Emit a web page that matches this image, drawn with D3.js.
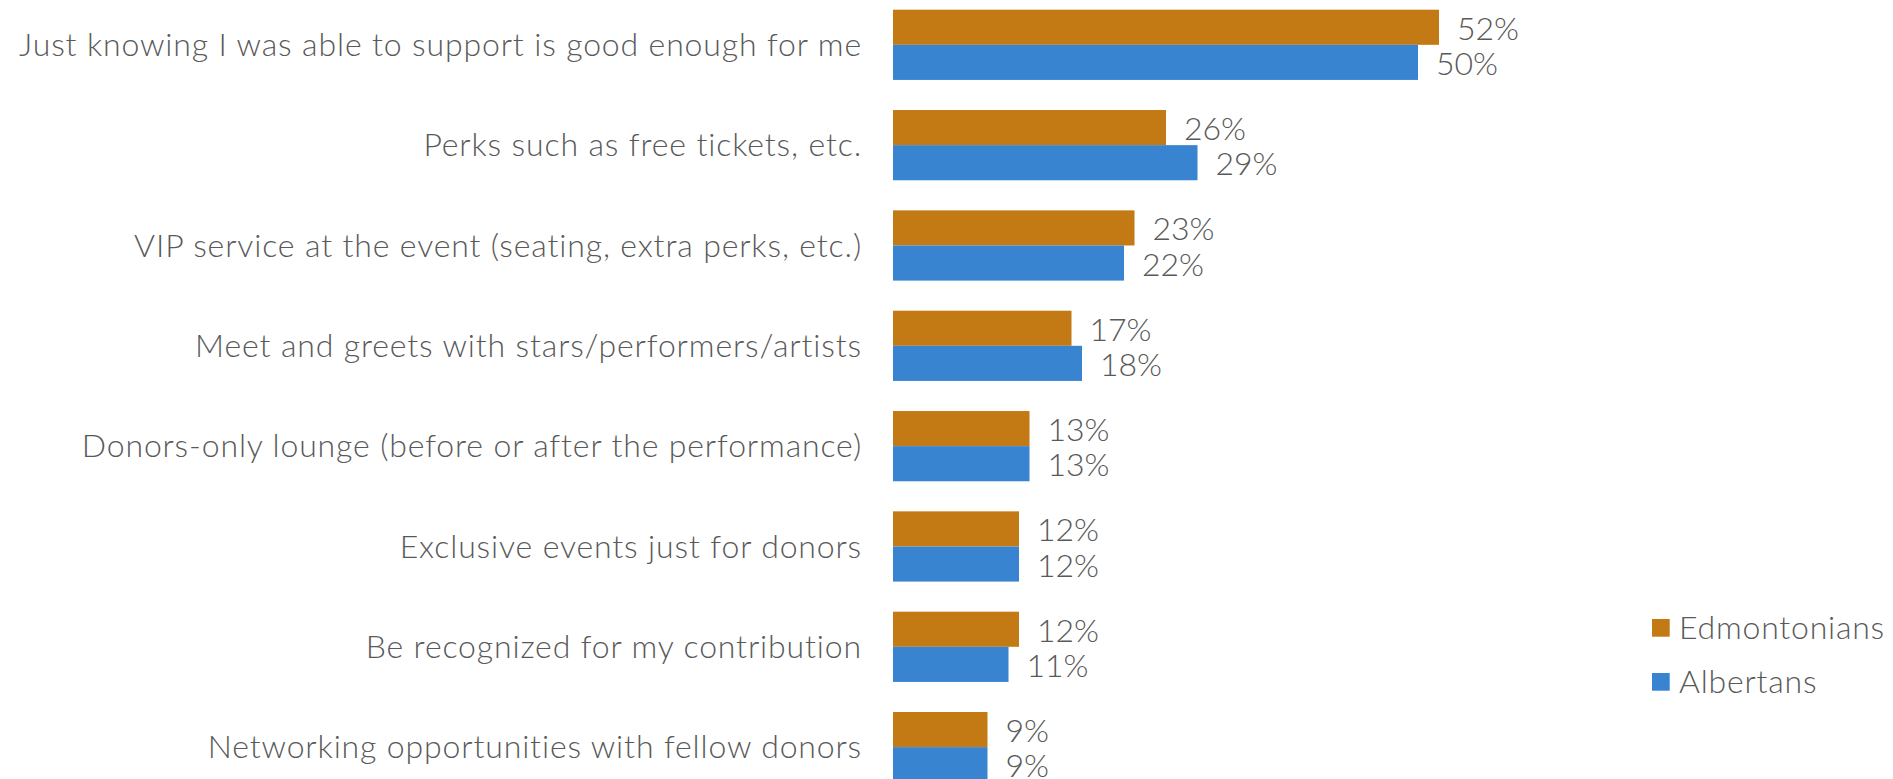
<!DOCTYPE html>
<html>
<head>
<meta charset="utf-8">
<script src="https://cdn.jsdelivr.net/npm/d3@7"></script>
<style>
  html, body { margin: 0; padding: 0; background: #fff; }
  svg { display: block; }
  text { font-family: Lato, "Open Sans", sans-serif; font-weight: 300; fill: #595959; }
</style>
</head>
<body>
<svg id="chart" width="1893" height="779"></svg>
<script>
// Reasons for donating: share of respondents, by group
const categories = [
  "Just knowing I was able to support is good enough for me",
  "Perks such as free tickets, etc.",
  "VIP service at the event (seating, extra perks, etc.)",
  "Meet and greets with stars/performers/artists",
  "Donors-only lounge (before or after the performance)",
  "Exclusive events just for donors",
  "Be recognized for my contribution",
  "Networking opportunities with fellow donors"
];
const seriesNames = ["Edmontonians", "Albertans"];
const edmontonians = [52, 26, 23, 17, 13, 12, 12, 9];
const albertans    = [50, 29, 22, 18, 13, 12, 11, 9];
const colors = ["#C47A14", "#3884D0"];

const rows = categories.map((c, i) => ({ category: c, values: [edmontonians[i], albertans[i]] }));

const svg = d3.select("#chart");
const fontSize = 32;

// Uniform tracking so that a sample string reaches a given width
function fitSpacing(sel, sample, width) {
  const t = svg.append("text").attr("font-size", fontSize).text(sample);
  const w = t.node().getComputedTextLength();
  t.remove();
  sel.attr("letter-spacing", (width - w) / sample.length);
}

const x = d3.scaleLinear().domain([0, 60]).range([893, 893 + 630]);
const y = d3.scaleBand().domain(categories).range([-5.35, 797.3]).paddingInner(0.3).paddingOuter(0.15);
const ySub = d3.scaleBand().domain(seriesNames).range([0, y.bandwidth()]);

const g = svg.append("g");

const groups = g.selectAll("g.row").data(rows).join("g")
  .attr("class", "row")
  .attr("transform", d => `translate(0,${y(d.category)})`);

groups.selectAll("rect").data(d => d.values.map((v, k) => ({ v, k }))).join("rect")
  .attr("x", x(0))
  .attr("y", d => ySub(seriesNames[d.k]))
  .attr("width", d => x(d.v) - x(0))
  .attr("height", ySub.bandwidth())
  .attr("fill", d => colors[d.k]);

const valLabels = groups.selectAll("text.val").data(d => d.values.map((v, k) => ({ v, k }))).join("text")
  .attr("class", "val")
  .attr("x", d => x(d.v) + 18)
  .attr("y", d => ySub(seriesNames[d.k]) + ySub.bandwidth() / 2 + 12.5)
  .attr("font-size", fontSize)
  .text(d => d.v + "%");
fitSpacing(valLabels, "52%", 62);

const catLabels = groups.append("text")
  .attr("class", "cat")
  .attr("x", 862)
  .attr("y", y.bandwidth() / 2 + 11.3)
  .attr("text-anchor", "end")
  .attr("font-size", fontSize)
  .text(d => d.category);
fitSpacing(catLabels, categories[0], 843);

// Legend
const legend = svg.append("g").attr("transform", "translate(1652,619)");
const items = legend.selectAll("g").data(seriesNames).join("g")
  .attr("transform", (d, i) => `translate(0,${i * 54})`);
items.append("rect").attr("width", 17.7).attr("height", 17.7).attr("fill", (d, i) => colors[i]);
const legText = items.append("text").attr("x", 27).attr("y", 20.3).attr("font-size", fontSize)
  .text(d => d);
fitSpacing(legText, seriesNames[0], 206);
</script>
</body>
</html>
